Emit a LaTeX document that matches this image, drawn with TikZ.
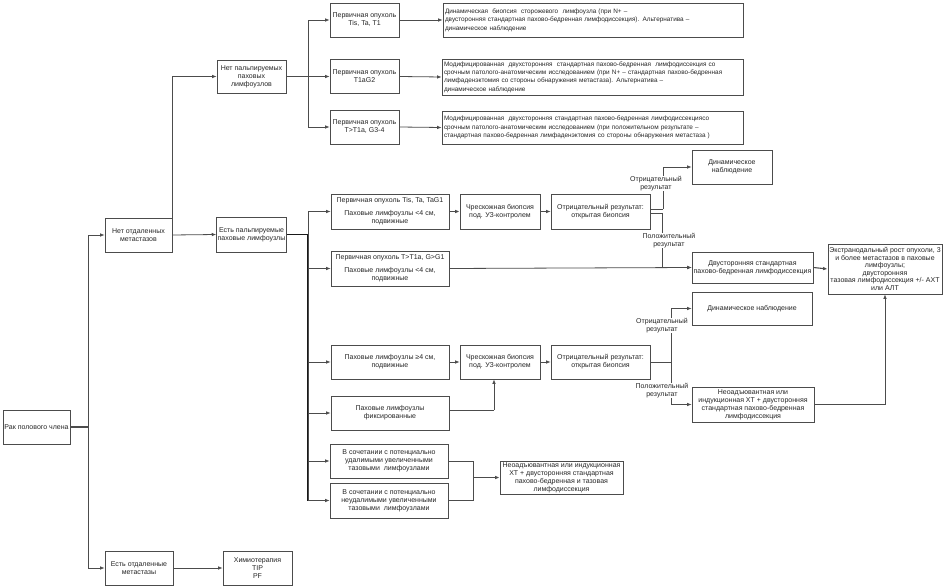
\documentclass[tikz,border=0pt]{standalone}
\usepackage{fontspec}
\setmainfont{Liberation Sans}
\usetikzlibrary{arrows.meta,calc}
\newcommand{\boxfont}{\fontsize{7}{8}\selectfont}
\newcommand{\rfont}{\fontsize{6.4}{8.3}\selectfont}
\begin{document}
\begin{tikzpicture}[x=1pt,y=-1pt,
  box/.style={draw=black!70, line width=0.8pt, inner sep=1pt, align=center, font=\boxfont, text=black!85},
  lbox/.style={box, align=left, inner sep=2pt, font=\rfont},
  lbl/.style={font=\boxfont, text=black!85, align=center, fill=white, inner sep=0.5pt},
  ln/.style={draw=black!70, line width=0.8pt},
  arr/.style={ln, -{Latex[length=4.5pt,width=3.6pt]}},
  trunk/.style={draw=black!90, line width=1.3pt}
]
\useasboundingbox (0,0) rectangle (945,588);
\fill[white] (0,0) rectangle (945,588);

% left column
\node[box, minimum width=67pt, minimum height=34pt] (rak) at (36.5,427) {Рак полового члена};
\node[box, minimum width=67pt, minimum height=34pt] (net) at (138.5,235) {Нет отдаленных\\метастазов};
\node[box, minimum width=68pt, minimum height=34pt] (est) at (139,568) {Есть отдаленные\\метастазы};
\node[box, minimum width=69pt, minimum height=34pt] (chemo) at (257.5,568) {Химиотерапия\\TIP\\PF};
\node[box, minimum width=69pt, minimum height=33pt] (nopalp) at (251.5,76.5) {Нет пальпируемых\\паховых\\лимфоузлов};
\node[box, minimum width=69pt, minimum height=35pt] (palp) at (251.5,234.5) {Есть пальпируемые\\паховые лимфоузлы};

% top group
\node[box, minimum width=69pt, minimum height=34pt] (t1) at (364.5,20) {Первичная опухоль\\Tis, Ta, T1};
\node[box, minimum width=69pt, minimum height=34pt] (t2) at (364.5,76.5) {Первичная опухоль\\T1aG2};
\node[box, minimum width=69pt, minimum height=34pt] (t3) at (364.5,127) {Первичная опухоль\\T>T1a, G3-4};
\node[lbox, text width=296pt, minimum height=34pt] (r1) at (593,20) {Динамическая\ \ биопсия\ \ сторожевого\ \ лимфоузла (при N+ –\\двусторонняя стандартная пахово-бедренная лимфодиссекция). Альтернатива –\\динамическое наблюдение};
\node[lbox, text width=297pt, minimum height=36pt] (r2) at (592.5,77) {Модифицированная\ \ двухсторонняя\ \ стандартная пахово-бедренная\ \ лимфодиссекция со\\срочным патолого-анатомическим исследованием (при N+ – стандартная пахово-бедренная\\лимфаденэктомия со стороны обнаружения метастаза). Альтернатива –\\динамическое наблюдение};
\node[lbox, text width=297pt, minimum height=33pt] (r3) at (592.5,127.5) {Модифицированная\ \ двухсторонняя стандартная пахово-бедренная лимфодиссекциясо\\срочным патолого-анатомическим исследованием (при положительном результате –\\стандартная пахово-бедренная лимфаденэктомия со стороны обнаружения метастаза )};

% middle group
\node[box, minimum width=118pt, minimum height=35pt] (a1) at (390,211.5) {Первичная опухоль Tis, Ta, TaG1\\[5pt]Паховые лимфоузлы <4 см,\\подвижные};
\node[box, minimum width=80pt, minimum height=35pt] (a2) at (500,211.5) {Чрескожная биопсия\\под. УЗ-контролем};
\node[box, minimum width=99pt, minimum height=35pt] (a3) at (600.5,211.5) {Отрицательный результат:\\открытая биопсия};
\node[box, minimum width=118pt, minimum height=35pt] (b1) at (390,268.5) {Первичная опухоль T>T1a, G>G1\\[5pt]Паховые лимфоузлы <4 см,\\подвижные};
\node[box, minimum width=80pt, minimum height=34pt] (dyn1) at (732,167) {Динамическое\\наблюдение};
\node[box, minimum width=121pt, minimum height=31pt] (bil) at (752.5,267.5) {Двусторонняя стандартная\\пахово-бедренная лимфодиссекция};
\node[box, minimum width=114pt, minimum height=50pt, font=\fontsize{7}{7.6}\selectfont] (extra) at (885,269) {Экстранодальный рост опухоли, 3\\и более метастазов в паховые\\лимфоузлы;\\двусторонняя\\тазовая лимфодиссекция +/- АХТ\\или АЛТ};

% lower group
\node[box, minimum width=118pt, minimum height=34pt] (c1) at (390,362) {Паховые лимфоузлы ≥4 см,\\подвижные};
\node[box, minimum width=80pt, minimum height=34pt] (c2) at (500,362) {Чрескожная биопсия\\под. УЗ-контролем};
\node[box, minimum width=99pt, minimum height=34pt] (c3) at (600.5,362) {Отрицательный результат:\\открытая биопсия};
\node[box, minimum width=118pt, minimum height=34pt] (d1) at (390,413) {Паховые лимфоузлы\\фиксированные};
\node[box, minimum width=120pt, minimum height=33pt] (dyn2) at (752,308.5) {Динамическое наблюдение};
\node[box, minimum width=122pt, minimum height=35pt] (neo1) at (753,404.5) {Неоадъювантная или\\индукционная ХТ + двусторонняя\\стандартная пахово-бедренная\\лимфодиссекция};
\node[box, minimum width=118pt, minimum height=34pt] (e1) at (389,461) {В сочетании с потенциально\\удалимыми увеличенными\\тазовыми\ \ лимфоузлами};
\node[box, minimum width=118pt, minimum height=35pt] (e2) at (389,500.5) {В сочетании с потенциально\\неудалимыми увеличенными\\тазовыми\ \ лимфоузлами};
\node[box, minimum width=123pt, minimum height=33pt] (neo2) at (561.5,477.5) {Неоадъювантная или индукционная\\ХТ + двусторонняя стандартная\\пахово-бедренная и тазовая\\лимфодиссекция};

% junction coordinates
\coordinate (j0) at (88,427);
\coordinate (j1) at (308,76.5);
\coordinate (j2) at (308,234.5);
\coordinate (k1) at (663,209);
\coordinate (k2) at (662,213);
\coordinate (k3) at (494,410);
\coordinate (k4) at (671,362);
\coordinate (j5) at (473,477.5);

% connectors: left
\draw[ln, line width=1.1pt] (rak.east) -- (j0);
\draw[arr] (j0) |- (net.west);
\draw[arr] (j0) |- (est.west);
\draw[arr] (est.east) -- (chemo.west);
\draw[arr] (net.east) -- (palp.west);
\draw[arr] (net.north east) |- (nopalp.west);

% top group
\draw[ln, line width=1.1pt] (nopalp.east) -- (j1);
\draw[arr] (j1) |- (t1.west);
\draw[arr] (j1) |- (t2.west);
\draw[arr] (j1) |- (t3.west);
\draw[arr] (t1.east) -- (r1.west);
\draw[arr] (t2.east) -- (r2.west);
\draw[arr] (t3.east) -- (r3.west);

% palpable trunk
\draw[trunk] (palp.east) -- (j2) -- (j2 |- e2.west);
\draw[arr] (j2) |- (a1.west);
\draw[arr] (j2) |- (b1.west);
\draw[arr] (j2) |- (c1.west);
\draw[arr] (j2) |- (d1.west);
\draw[arr] (j2) |- (e1.west);
\draw[arr] (j2) |- (e2.west);

% middle chain
\draw[arr, line width=1.1pt] (a1.east) -- (a2.west);
\draw[arr] (a2.east) -- (a3.west);
\draw[ln] (a3.east |- k1) -- (k1);
\draw[arr] (k1) |- (dyn1.west);
\draw[ln] (a3.east |- k2) -- (k2);
\draw[arr] (k2) |- (bil.west);
\draw[arr] (b1.east) -- (bil.west);
\draw[arr, line width=1.1pt] (bil.east) -- (extra.west);
\node[lbl] (lneg1) at (656,183.5) {Отрицательный\\результат};
\node[lbl] (lpos1) at (669,240.5) {Положительный\\результат};

% lower chain
\draw[arr] (c1.east) -- (c2.west);
\draw[arr] (c2.east) -- (c3.west);
\draw[ln] (d1.east |- k3) -- (k3);
\draw[arr] (k3) -- (k3 |- c2.south);
\draw[ln] (c3.east) -- (k4);
\draw[arr] (k4) |- (dyn2.west);
\draw[arr] (k4) |- (neo1.west);
\draw[arr] (neo1.east) -| (extra.south);
\node[lbl] (lneg2) at (662,325.5) {Отрицательный\\результат};
\node[lbl] (lpos2) at (662,390.5) {Положительный\\результат};

% pelvic nodes
\draw[ln] (e1.east) -| (j5);
\draw[ln] (e2.east) -| (j5);
\draw[arr, line width=1.1pt] (j5) -- (neo2.west);
\end{tikzpicture}
\end{document}
